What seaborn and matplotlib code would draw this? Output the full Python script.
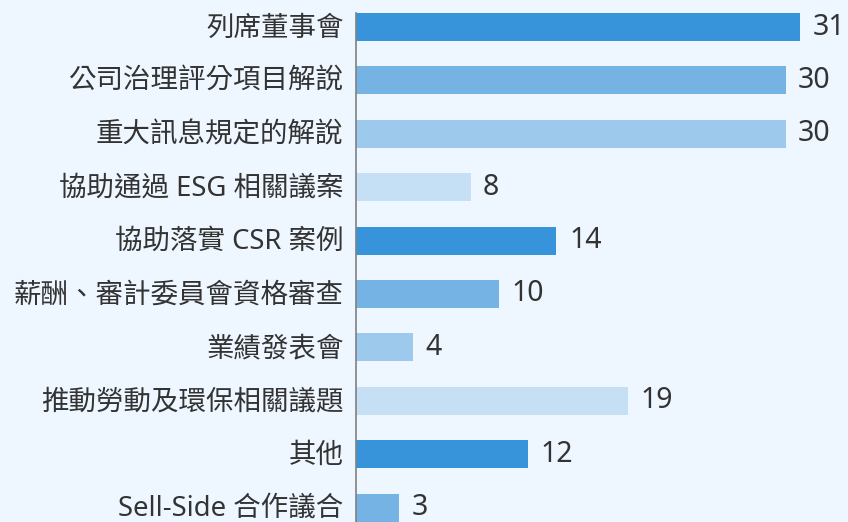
import matplotlib
matplotlib.use("Agg")
import matplotlib.pyplot as plt
import matplotlib.transforms as mtransforms
import seaborn as sns
import pandas as pd

categories = ["列席董事會", "公司治理評分項目解說", "重大訊息規定的解說", "協助通過 ESG 相關議案",
              "協助落實 CSR 案例", "薪酬、審計委員會資格審查", "業績發表會", "推動勞動及環保相關議題",
              "其他", "Sell-Side 合作議合"]
values = [31, 30, 30, 8, 14, 10, 4, 19, 12, 3]
colors = ["#3894DA", "#74B3E4", "#9DC9EC", "#C5DFF4"]

sns.set_theme(style="white")
plt.rcParams['font.family'] = ['Noto Sans', 'Noto Sans CJK TC', 'DejaVu Sans']

bg = "#EEF7FF"
df = pd.DataFrame({"cat": categories, "val": values})
palette = {c: colors[i % 4] for i, c in enumerate(categories)}

fig = plt.figure(figsize=(8.48, 5.22), dpi=100, facecolor=bg)
ax = fig.add_axes([356/848, 0, 1 - 356/848, 1])
ax.set_facecolor(bg)
sns.barplot(data=df, y="cat", x="val", hue="cat", palette=palette, legend=False,
            orient="h", width=0.525, ax=ax, saturation=1, edgecolor="none")

ax.set_xlim(0, 492/14.32)
ax.set_ylim(9.27, -0.506)
for s in ["top", "right", "bottom"]:
    ax.spines[s].set_visible(False)
ax.spines["left"].set_color("#808080")
ax.spines["left"].set_linewidth(1.2)
ax.spines["left"].set_bounds(-0.2625, 9.27)
ax.set_xticks([])
ax.set_xlabel("")
ax.set_ylabel("")
ax.tick_params(axis="y", length=0, pad=9, labelsize=19.8, labelcolor="#333333")
shift = mtransforms.ScaledTranslation(0, 2/100, fig.dpi_scale_trans)
for lbl in ax.get_yticklabels():
    lbl.set_transform(lbl.get_transform() + shift)

for i, v in enumerate(values):
    ax.annotate(str(v), xy=(v, i), xytext=(9, 0), textcoords="offset points",
                va="center", ha="left", fontsize=20.5, color="#333333")

fig.savefig("out.png", dpi=100, facecolor=bg)
